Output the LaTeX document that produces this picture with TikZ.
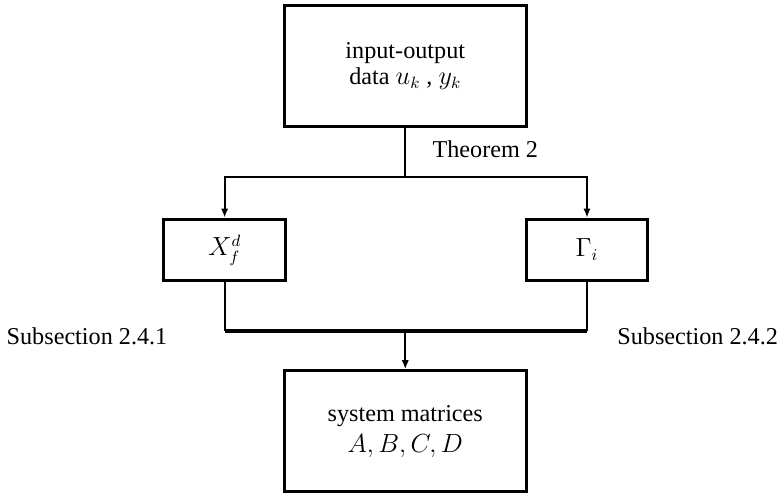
\documentclass[tikz,border=0pt]{standalone}
\usepackage{fontspec}
\setmainfont{Liberation Serif}
\usepackage{tikz}
\usetikzlibrary{positioning,arrows.meta}

\begin{document}
\begin{tikzpicture}[
  font=\fontsize{13.3}{14}\selectfont,
  bigbox/.style={draw,line width=1.7pt,minimum width=4.68cm,minimum height=2.33cm,align=center},
  smallbox/.style={draw,line width=1.7pt,minimum width=2.35cm,minimum height=1.19cm},
  link/.style={line width=1.2pt},
  every node/.style={inner sep=2pt},
  >={Latex[length=5pt,width=4pt]},
]
\useasboundingbox (-7.83,1.28) rectangle (7.22,-8.25);
\node[bigbox] (data) at (0,0) {input-output\\data $u_k$ , $y_k$};
\node[smallbox,below=1.73cm of data,xshift=-3.49cm] (xf) {$X_f^d$};
\node[smallbox,below=1.73cm of data,xshift=3.51cm] (gam) {$\Gamma_i$};
\node[bigbox,below=4.66cm of data] (sys) {system matrices\\[3pt]$A,B,C,D$};
% split and merge points
\coordinate[below=0.94cm of data] (split);
\coordinate[below=0.94cm of xf] (ml);
\coordinate[below=0.94cm of gam] (mr);
\draw[link] (data) -- (split);
\draw[link,->] (split) -| (xf);
\draw[link,->] (split) -| (gam);
\draw[link] (xf) -- (ml);
\draw[link] (gam) -- (mr);
\draw[line width=1.7pt] (ml) -- (mr);
\draw[link,->] (ml -| sys) -- (sys);
\node[anchor=base west] (thm) at ([xshift=0.45cm,yshift=0.37cm]split) {Theorem 2};
\node[anchor=base east] (sub1) at ([xshift=-1.03cm,yshift=-0.27cm]ml) {Subsection 2.4.1};
\node[anchor=base west] (sub2) at ([xshift=0.51cm,yshift=-0.27cm]mr) {Subsection 2.4.2};
\end{tikzpicture}
\end{document}
